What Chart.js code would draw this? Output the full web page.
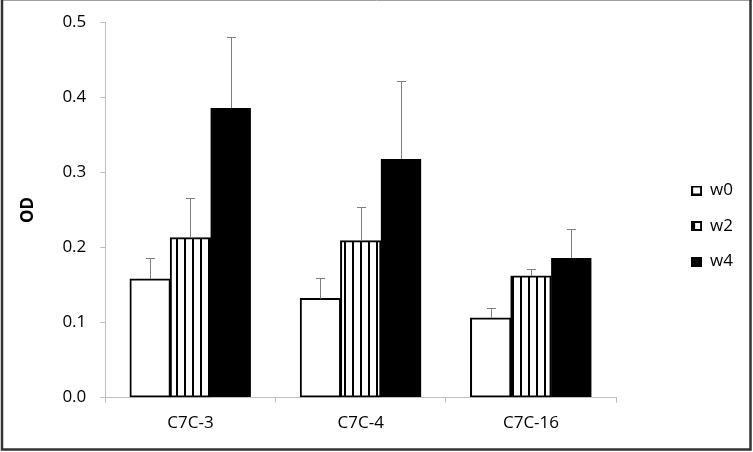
<!DOCTYPE html>
<html>
<head>
<meta charset="utf-8">
<script src="https://cdn.jsdelivr.net/npm/chart.js@4/dist/chart.umd.min.js"></script>
<style>
  html, body { margin: 0; padding: 0; background: #fff; }
  #wrap { width: 753px; height: 452px; }
</style>
</head>
<body>
<div id="wrap"><canvas id="chart" width="753" height="452"></canvas></div>
<script>
// values
const categories = ['C7C-3', 'C7C-4', 'C7C-16'];
const seriesNames = ['w0', 'w2', 'w4'];
const w0 = [0.158, 0.132, 0.106];
const w2 = [0.213, 0.209, 0.162];
const w4 = [0.386, 0.318, 0.186];
const w0Err = [0.028, 0.027, 0.013];
const w2Err = [0.053, 0.045, 0.009];
const w4Err = [0.095, 0.104, 0.039];
const yMin = 0, yMax = 0.5, yStep = 0.1;
const yTitle = 'OD';

const FONT = "'Open Sans', sans-serif";

// vertical stripes for w2
const stripeCanvas = document.createElement('canvas');
stripeCanvas.width = 8;
stripeCanvas.height = 4;
let sc = stripeCanvas.getContext('2d');
sc.fillStyle = '#fff';
sc.fillRect(0, 0, 8, 4);
sc.fillStyle = '#000';
sc.fillRect(0, 0, 2, 4);
const ctx = document.getElementById('chart').getContext('2d');
const stripes = ctx.createPattern(stripeCanvas, 'repeat');

// small legend markers
function marker(kind) {
  const c = document.createElement('canvas');
  c.width = 11; c.height = 10;
  const m = c.getContext('2d');
  m.fillStyle = '#000';
  m.fillRect(0, 0, 11, 10);
  if (kind !== 'w4') {
    m.fillStyle = '#fff';
    if (kind === 'w0') m.fillRect(2, 2, 7, 6);
    else m.fillRect(4, 2, 5, 6);
  }
  return c;
}

const errors = [w0Err, w2Err, w4Err];

const errorBars = {
  id: 'errorBars',
  afterDatasetsDraw(chart) {
    const y = chart.scales.y;
    const c = chart.ctx;
    c.save();
    c.strokeStyle = '#7f7f7f';
    c.lineWidth = 1;
    chart.data.datasets.forEach((ds, i) => {
      const meta = chart.getDatasetMeta(i);
      meta.data.forEach((bar, j) => {
        const top = Math.round(y.getPixelForValue(ds.data[j] + errors[i][j])) + 0.5;
        const x = Math.round(bar.x) + 0.5;
        c.beginPath();
        c.moveTo(x, bar.y);
        c.lineTo(x, top);
        c.moveTo(x - 4.5, top);
        c.lineTo(x + 4.5, top);
        c.stroke();
      });
    });
    c.restore();
  }
};

const legendShift = {
  id: 'legendShift',
  afterLayout(chart) {
    const lg = chart.legend;
    const dx = chart.chartArea.right + 57 - lg.left;
    lg.left += dx;
    lg.right += dx;
    const h = lg.bottom - lg.top;
    lg.top = chart.chartArea.top + 141;
    lg.bottom = lg.top + h;
  }
};

const frame = {
  id: 'frame',
  afterDraw(chart) {
    const c = chart.ctx;
    c.save();
    c.strokeStyle = '#a0a0a0';
    c.lineWidth = 1;
    c.beginPath();
    c.moveTo(1, 0.5);
    c.lineTo(752, 0.5);
    c.stroke();
    c.strokeStyle = '#333';
    c.lineWidth = 2.5;
    c.beginPath();
    c.moveTo(2, 0);
    c.lineTo(2, 449.5);
    c.lineTo(750.5, 449.5);
    c.lineTo(750.5, 0);
    c.stroke();
    c.restore();
  }
};

new Chart(ctx, {
  type: 'bar',
  data: {
    labels: categories,
    datasets: [
      { label: seriesNames[0], data: w0, backgroundColor: '#fff', borderColor: '#000', borderWidth: 2, borderSkipped: false, inflateAmount: 0.5 },
      { label: seriesNames[1], data: w2, backgroundColor: stripes, borderColor: '#000', borderWidth: 2, borderSkipped: false, inflateAmount: 0.5 },
      { label: seriesNames[2], data: w4, backgroundColor: '#000', borderColor: '#000', borderWidth: 0 }
    ]
  },
  options: {
    responsive: false,
    animation: false,
    events: [],
    layout: { padding: { left: 8, right: 67, top: 12, bottom: 9 } },
    datasets: { bar: { categoryPercentage: 0.71, barPercentage: 1 } },
    scales: {
      x: {
        grid: { offset: true, drawOnChartArea: false, color: '#bfbfbf', tickLength: 5 },
        border: { color: '#bfbfbf' },
        ticks: { color: '#000', font: { family: FONT, size: 17 }, padding: 10 }
      },
      y: {
        min: yMin, max: yMax,
        grid: { drawOnChartArea: false, color: '#bfbfbf', tickLength: 5 },
        border: { color: '#bfbfbf' },
        ticks: {
          stepSize: yStep, color: '#000', padding: 14,
          font: { family: FONT, size: 17, lineHeight: 1 },
          callback: v => v.toFixed(1)
        },
        title: {
          display: true, text: yTitle, color: '#000',
          font: { family: FONT, size: 17, weight: 'bold' },
          padding: { top: 10, bottom: 10 }
        }
      }
    },
    plugins: {
      legend: {
        position: 'right',
        align: 'start',
        labels: {
          usePointStyle: true,
          boxWidth: 10, boxHeight: 14,
          padding: 18.5,
          color: '#000',
          font: { family: FONT, size: 17 },
          generateLabels: chart => chart.data.datasets.map((ds, i) => ({
            text: ds.label,
            datasetIndex: i,
            pointStyle: marker(ds.label),
            fillStyle: '#000', strokeStyle: '#000', lineWidth: 0,
            fontColor: '#000'
          }))
        }
      },
      tooltip: { enabled: false }
    }
  },
  plugins: [errorBars, legendShift, frame]
});
</script>
</body>
</html>
